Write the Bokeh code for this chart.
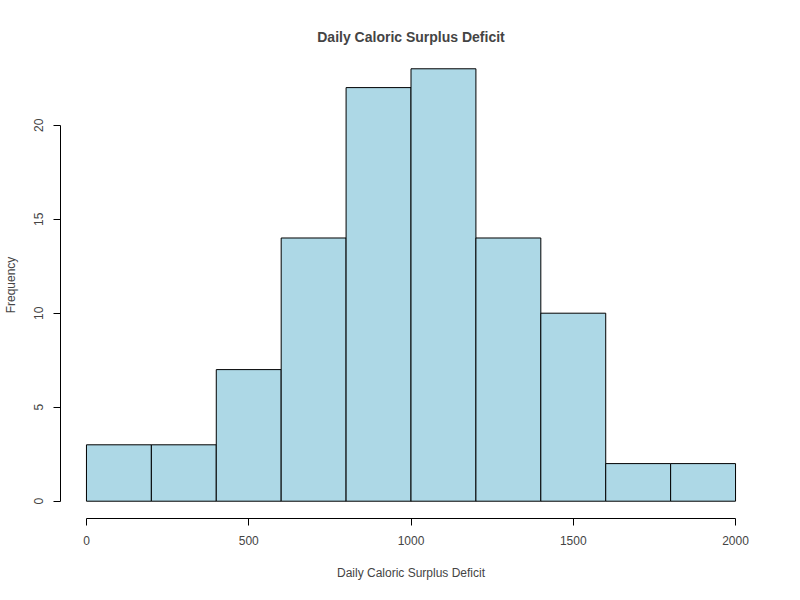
from bokeh.plotting import figure
from bokeh.models import LinearAxis, FixedTicker, Range1d
from bokeh.embed import file_html
from bokeh.resources import INLINE

bin_edges = [0, 200, 400, 600, 800, 1000, 1200, 1400, 1600, 1800, 2000]
counts = [3, 3, 7, 14, 22, 23, 14, 10, 2, 2]
x_ticks = [0, 500, 1000, 1500, 2000]
y_ticks = [0, 5, 10, 15, 20]

FONT = "Liberation Sans"

p = figure(width=784, height=584, output_backend="svg", toolbar_location=None,
           x_range=Range1d(-80, 2080), y_range=Range1d(-0.92, 23.92),
           x_axis_location=None, y_axis_location=None,
           title="Daily Caloric Surplus Deficit",
           min_border_left=51, min_border_right=23, min_border_top=51, min_border_bottom=66)
p.grid.visible = False
p.outline_line_color = None
p.title.align = "center"
p.title.text_font = FONT
p.title.text_font_size = "14px"
p.title.text_font_style = "bold"
p.title.offset = 0
p.title.standoff = 14

p.quad(left=bin_edges[:-1], right=bin_edges[1:], bottom=0, top=counts,
       fill_color="#add8e6", line_color="black", line_width=1)

def style(ax, label):
    ax.axis_label = label
    ax.axis_label_text_font = FONT
    ax.axis_label_text_font_size = "12px"
    ax.axis_label_text_font_style = "normal"
    ax.major_label_text_font = FONT
    ax.major_label_text_font_size = "12px"
    ax.minor_tick_line_color = None
    ax.major_tick_out = 7
    ax.major_tick_in = 0
    ax.axis_line_color = "black"
    ax.major_tick_line_color = "black"

xa = LinearAxis(ticker=FixedTicker(ticks=x_ticks), bounds=(0, 2000))
style(xa, "Daily Caloric Surplus Deficit")
xa.major_label_standoff = 10
xa.axis_label_standoff = 18
p.add_layout(xa, "below")

ya = LinearAxis(ticker=FixedTicker(ticks=y_ticks), bounds=(0, 20))
style(ya, "Frequency")
ya.major_label_orientation = "vertical"
ya.major_label_standoff = 10
ya.axis_label_standoff = 14
p.add_layout(ya, "left")

open("out.html", "w").write(file_html(p, INLINE))
